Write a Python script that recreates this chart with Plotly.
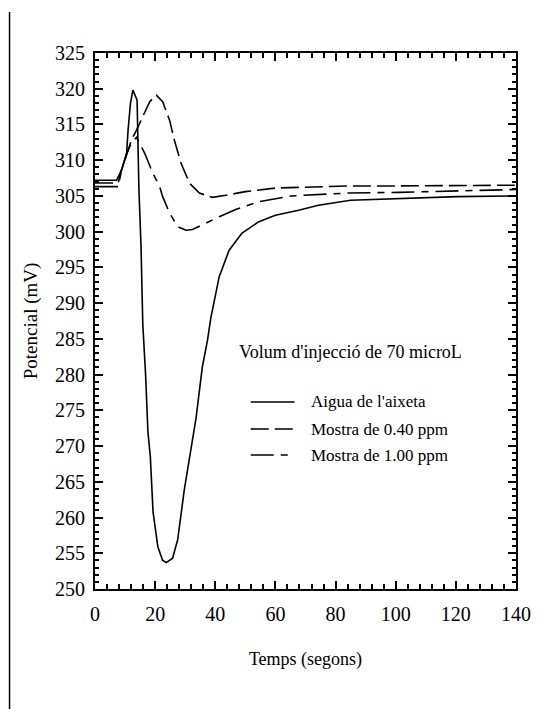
import plotly.graph_objects as go

# ---- data ----
series_names = ["Aigua de l'aixeta", "Mostra de 0.40 ppm", "Mostra de 1.00 ppm"]

t_aigua = [0, 7.2, 8.8, 10.5, 11.0, 11.8, 12.6, 14.0, 14.6, 15.3, 15.9, 16.8, 17.6, 18.4,
           19.3, 20.9, 22.5, 23.7, 25.8, 27.5, 29.7, 31.9, 33.6, 35.7, 37.4, 38.5, 41.3,
           44.6, 48.9, 54.5, 60, 67.7, 74.3, 85, 102.9, 120.5, 140]
v_aigua = [307.2, 307.2, 308.6, 310.9, 314.2, 318.0, 319.8, 318.4, 306.0, 298.0, 287.0,
           280.2, 272.0, 268.5, 260.8, 255.9, 254.0, 253.7, 254.3, 256.9, 263.9, 269.5,
           273.9, 281.1, 284.8, 287.9, 293.7, 297.4, 299.8, 301.4, 302.3, 303.0, 303.7,
           304.4, 304.7, 304.9, 305.0]

t_040 = [0, 7.7, 8.8, 10.5, 12.1, 13.8, 16.5, 18.2, 20.4, 22.5, 24.8, 26.4, 28.6, 31.4,
         34.7, 39, 43.5, 50, 60, 71, 85, 100, 120, 140]
v_040 = [306.8, 306.8, 308.6, 310.9, 312.8, 314.2, 316.6, 318.2, 319.1, 318.2, 315.6,
         312.8, 309.6, 306.8, 305.4, 304.8, 305.1, 305.6, 306.1, 306.2, 306.4, 306.4,
         306.5, 306.5]

t_100 = [0, 7.7, 8.8, 10.5, 12.1, 13.8, 16.5, 19.2, 21.5, 22.5, 24.8, 27.5, 30.3, 32.4,
         36.9, 41.3, 46.8, 54.5, 65.4, 74, 84, 101, 120, 140]
v_100 = [306.3, 306.3, 308.6, 310.9, 312.4, 313.2, 311.0, 308.2, 306.3, 304.9, 302.6,
         300.7, 300.2, 300.3, 301.2, 302.1, 303.1, 304.2, 305.0, 305.2, 305.4, 305.5,
         305.7, 305.9]

legend_title = "Volum d'injecció de 70 microL"
x_title = "Temps (segons)"
y_title = "Potencial (mV)"

FONT = "Liberation Serif"
dashes = ["solid", "18px,6px", "23px,7px,7px,7px"]

fig = go.Figure()
for name, t, v, d in zip(series_names, [t_aigua, t_040, t_100], [v_aigua, v_040, v_100], dashes):
    fig.add_trace(go.Scatter(x=t, y=v, mode="lines", name=name, showlegend=False,
                             line=dict(color="black", width=1.6, dash=d)))

axis_common = dict(showline=True, linecolor="black", linewidth=1.8, mirror="allticks",
                   ticks="inside", tickcolor="black", tickwidth=2, showgrid=False,
                   zeroline=False, tickfont=dict(family=FONT, size=20, color="black"))

fig.update_xaxes(range=[0, 140], dtick=20, tick0=0, ticklen=8, ticklabelstandoff=6,
                 minor=dict(dtick=4, ticks="inside", ticklen=5, tickcolor="black", tickwidth=1.5,
                            showgrid=False),
                 title=dict(text=x_title, font=dict(family=FONT, size=18, color="black"), standoff=28),
                 **axis_common)
fig.update_yaxes(range=[250, 325], dtick=5, tick0=250, ticklen=8, ticklabelstandoff=4,
                 minor=dict(dtick=1, ticks="inside", ticklen=4, tickcolor="black", tickwidth=1.5,
                            showgrid=False),
                 title=dict(text=y_title, font=dict(family=FONT, size=19, color="black"), standoff=12),
                 **axis_common)

# legend drawn manually to match the reference layout
row_y = [0.349, 0.2985, 0.25]
for name, d, yy in zip(series_names, dashes, row_y):
    fig.add_shape(type="line", xref="paper", yref="paper", x0=0.370, x1=0.474, y0=yy, y1=yy,
                  line=dict(color="black", width=1.6, dash=d))
    fig.add_annotation(xref="paper", yref="paper", x=0.509, y=yy, text=name, showarrow=False,
                       xanchor="left", yanchor="middle",
                       font=dict(family=FONT, size=17, color="black"))
fig.add_annotation(xref="paper", yref="paper", x=0.337, y=0.442, text=legend_title,
                   showarrow=False, xanchor="left", yanchor="middle",
                   font=dict(family=FONT, size=18, color="black"))

# left border line of the page
fig.add_shape(type="line", xref="paper", yref="paper", x0=-0.203, x1=-0.203, y0=1.0765, y1=-0.25,
              line=dict(color="black", width=1.5))

fig.update_layout(width=543, height=709, margin=dict(l=95, r=24, t=53, b=120),
                  paper_bgcolor="white", plot_bgcolor="white", showlegend=False)

fig.write_html("out.html")
